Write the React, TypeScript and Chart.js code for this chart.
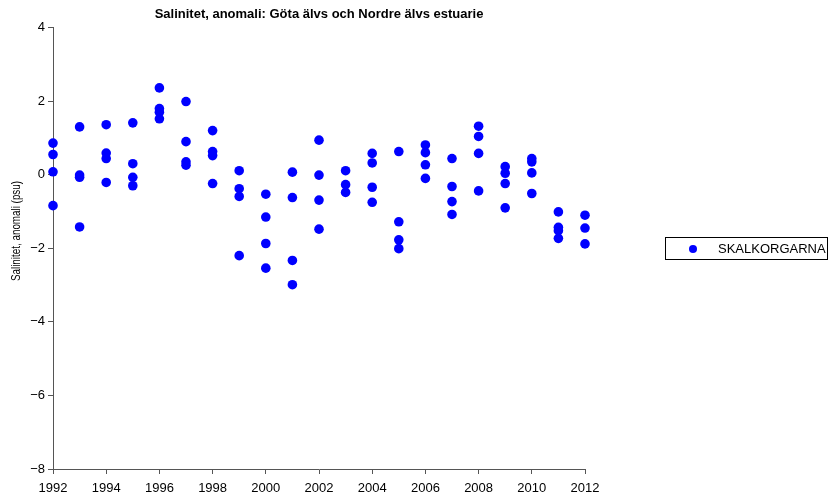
import React, { useEffect, useRef } from "react";
import { Chart, registerables } from "chart.js";

Chart.register(...registerables);

const chartTitle = "Salinitet, anomali: Göta älvs och Nordre älvs estuarie";
const yAxisTitle = "Salinitet, anomali (psu)";
const seriesName = "SKALKORGARNA";

const years = [1992, 1993, 1994, 1995, 1996, 1997, 1998, 1999, 2000, 2001, 2002, 2003, 2004, 2005, 2006, 2007, 2008, 2009, 2010, 2011, 2012];
const values: number[][] = [
  [0.86, 0.55, 0.08, -0.84],
  [1.30, -0.01, -0.07, -1.42],
  [1.36, 0.59, 0.44, -0.21],
  [1.41, 0.30, -0.07, -0.30],
  [2.36, 1.80, 1.70, 1.52],
  [1.99, 0.90, 0.35, 0.26],
  [1.20, 0.63, 0.52, -0.24],
  [0.11, -0.38, -0.59, -2.20],
  [-0.53, -1.15, -1.87, -2.54],
  [0.07, -0.62, -2.33, -2.99],
  [0.94, -0.01, -0.69, -1.48],
  [0.11, -0.27, -0.48],
  [0.58, 0.32, -0.34, -0.75],
  [0.63, -1.28, -1.77, -2.01],
  [0.81, 0.60, 0.27, -0.10],
  [0.44, -0.32, -0.73, -1.08],
  [1.32, 1.04, 0.58, -0.44],
  [0.22, 0.04, -0.24, -0.90],
  [0.44, 0.35, 0.05, -0.51],
  [-1.01, -1.43, -1.52, -1.73],
  [-1.10, -1.45, -1.88],
];
const yMin = -8;
const yMax = 4;
const xMin = 1992;
const xMax = 2012;

const FONT = "'Liberation Sans', Arial, Helvetica, sans-serif";
const BLUE = "#0000ff";

export default function App() {
  const ref = useRef<HTMLCanvasElement>(null);

  useEffect(() => {
    document.body.style.margin = "0";
    const points: { x: number; y: number }[] = [];
    years.forEach((yr, i) => values[i].forEach((v) => points.push({ x: yr, y: v })));

    const extras = {
      id: "extras",
      afterDraw(chart: any) {
        const ctx = chart.ctx;
        ctx.save();
        // y axis title (slightly condensed along its length)
        ctx.translate(17, 231);
        ctx.rotate(-Math.PI / 2);
        ctx.scale(0.82, 1);
        ctx.fillStyle = "#000";
        ctx.font = `12px ${FONT}`;
        ctx.textAlign = "center";
        ctx.textBaseline = "middle";
        ctx.fillText(yAxisTitle, 0, 0);
        ctx.restore();
        // legend
        ctx.save();
        const lx = 665.5, ly = 237.5, lw = 162, lh = 22;
        ctx.strokeStyle = "#000";
        ctx.lineWidth = 1;
        ctx.strokeRect(lx, ly, lw, lh);
        ctx.fillStyle = BLUE;
        ctx.beginPath();
        ctx.arc(693, 249, 4, 0, Math.PI * 2);
        ctx.fill();
        ctx.fillStyle = "#000";
        ctx.font = `13px ${FONT}`;
        ctx.textAlign = "left";
        ctx.textBaseline = "middle";
        ctx.fillText(seriesName, 718, 249);
        ctx.restore();
      },
    };

    const chart = new Chart(ref.current!, {
      type: "scatter",
      data: {
        datasets: [
          {
            label: seriesName,
            data: points,
            backgroundColor: BLUE,
            borderColor: BLUE,
            borderWidth: 0,
            pointRadius: 4.8,
            clip: false,
          } as any,
        ],
      },
      options: {
        animation: false,
        responsive: false,
        layout: { padding: { left: 0, right: 247, top: 0, bottom: 0 } },
        plugins: {
          legend: { display: false },
          tooltip: { enabled: false },
          title: {
            display: true,
            text: chartTitle,
            fullSize: false,
            color: "#000",
            font: { family: FONT, size: 13, weight: "bold" },
            padding: { top: 7, bottom: 5 },
          },
        },
        scales: {
          x: {
            type: "linear",
            min: xMin,
            max: xMax,
            afterFit(scale: any) {
              scale.height = 29;
            },
            ticks: {
              stepSize: 2,
              color: "#000",
              font: { family: FONT, size: 13 },
              padding: 7,
              maxRotation: 0,
              callback: (v: any) => String(v),
            },
            grid: { drawOnChartArea: false, drawTicks: true, tickLength: 5, color: "#555" },
            border: { color: "#555", width: 1 },
          },
          y: {
            min: yMin,
            max: yMax,
            afterFit(scale: any) {
              scale.width = 53;
            },
            ticks: {
              stepSize: 2,
              color: "#000",
              font: { family: FONT, size: 13 },
              padding: 3,
              callback: (v: any) => String(v).replace("-", "\u2212"),
            },
            grid: { drawOnChartArea: false, drawTicks: true, tickLength: 5, color: "#555" },
            border: { color: "#555", width: 1 },
          },
        },
      },
      plugins: [extras],
    });
    return () => chart.destroy();
  }, []);

  return (
    <div style={{ position: "absolute", left: 0, top: 0, width: 832, height: 498 }}>
      <canvas ref={ref} width={832} height={498} style={{ width: 832, height: 498, display: "block" }} />
    </div>
  );
}
